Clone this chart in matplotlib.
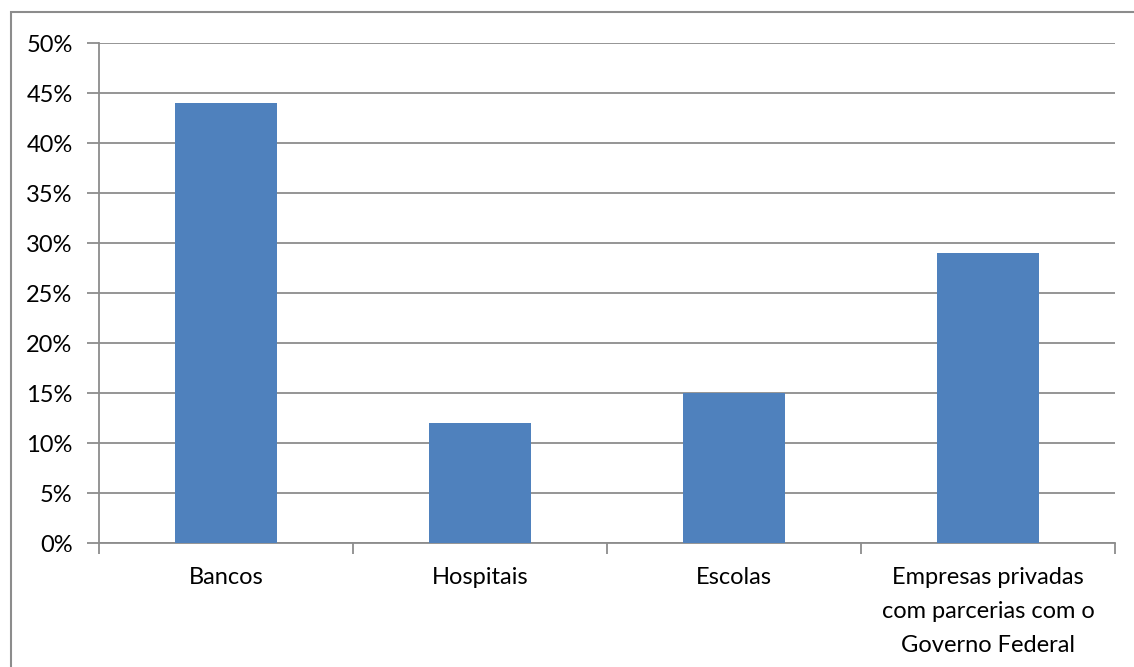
import matplotlib
matplotlib.use("Agg")
import matplotlib.pyplot as plt
from matplotlib.patches import Rectangle
from matplotlib.ticker import FixedLocator, PercentFormatter

# data
categorias = ["Bancos", "Hospitais", "Escolas",
              "Empresas privadas\ncom parcerias com o\nGoverno Federal"]
percentuais = [44, 12, 15, 29]

plt.rcParams['font.family'] = ['Lato', 'DejaVu Sans']

fig = plt.figure(figsize=(11.34, 6.67), dpi=100)
ax = fig.add_axes([0.0873, 0.1859, 0.8959, 0.7496])

# outer chart border (cut off on right and bottom like the original)
fig.patches.append(Rectangle((11 / 1134, -0.1), 1.2, (667 - 12) / 667 + 0.1,
                             transform=fig.transFigure, fill=False,
                             edgecolor='#8c8c8c', linewidth=1.5, clip_on=False))

x = range(len(categorias))
ax.bar(x, percentuais, width=0.4, color='#4F81BD', zorder=3)

ax.set_xlim(-0.5, len(categorias) - 0.5)
ax.set_ylim(0, 50)
ax.set_yticks(range(0, 51, 5))
ax.yaxis.set_major_formatter(PercentFormatter(decimals=0))
ax.yaxis.grid(True, color='#8c8c8c', linewidth=1.3, zorder=0)

ax.set_xticks(list(x))
ax.set_xticklabels(categorias, linespacing=1.77)
ax.xaxis.set_minor_locator(FixedLocator([i - 0.5 for i in range(len(categorias) + 1)]))
ax.tick_params(axis='x', which='major', length=0, pad=17, labelsize=17)
ax.tick_params(axis='x', which='minor', length=8, width=1.3, color='#8c8c8c', direction='out')
ax.tick_params(axis='y', length=9, width=1.3, color='#8c8c8c', pad=10, labelsize=17)

for s in ['top', 'right']:
    ax.spines[s].set_visible(False)
for s in ['left', 'bottom']:
    ax.spines[s].set_color('#8c8c8c')
    ax.spines[s].set_linewidth(1.3)

plt.savefig('out.png', dpi=100)
